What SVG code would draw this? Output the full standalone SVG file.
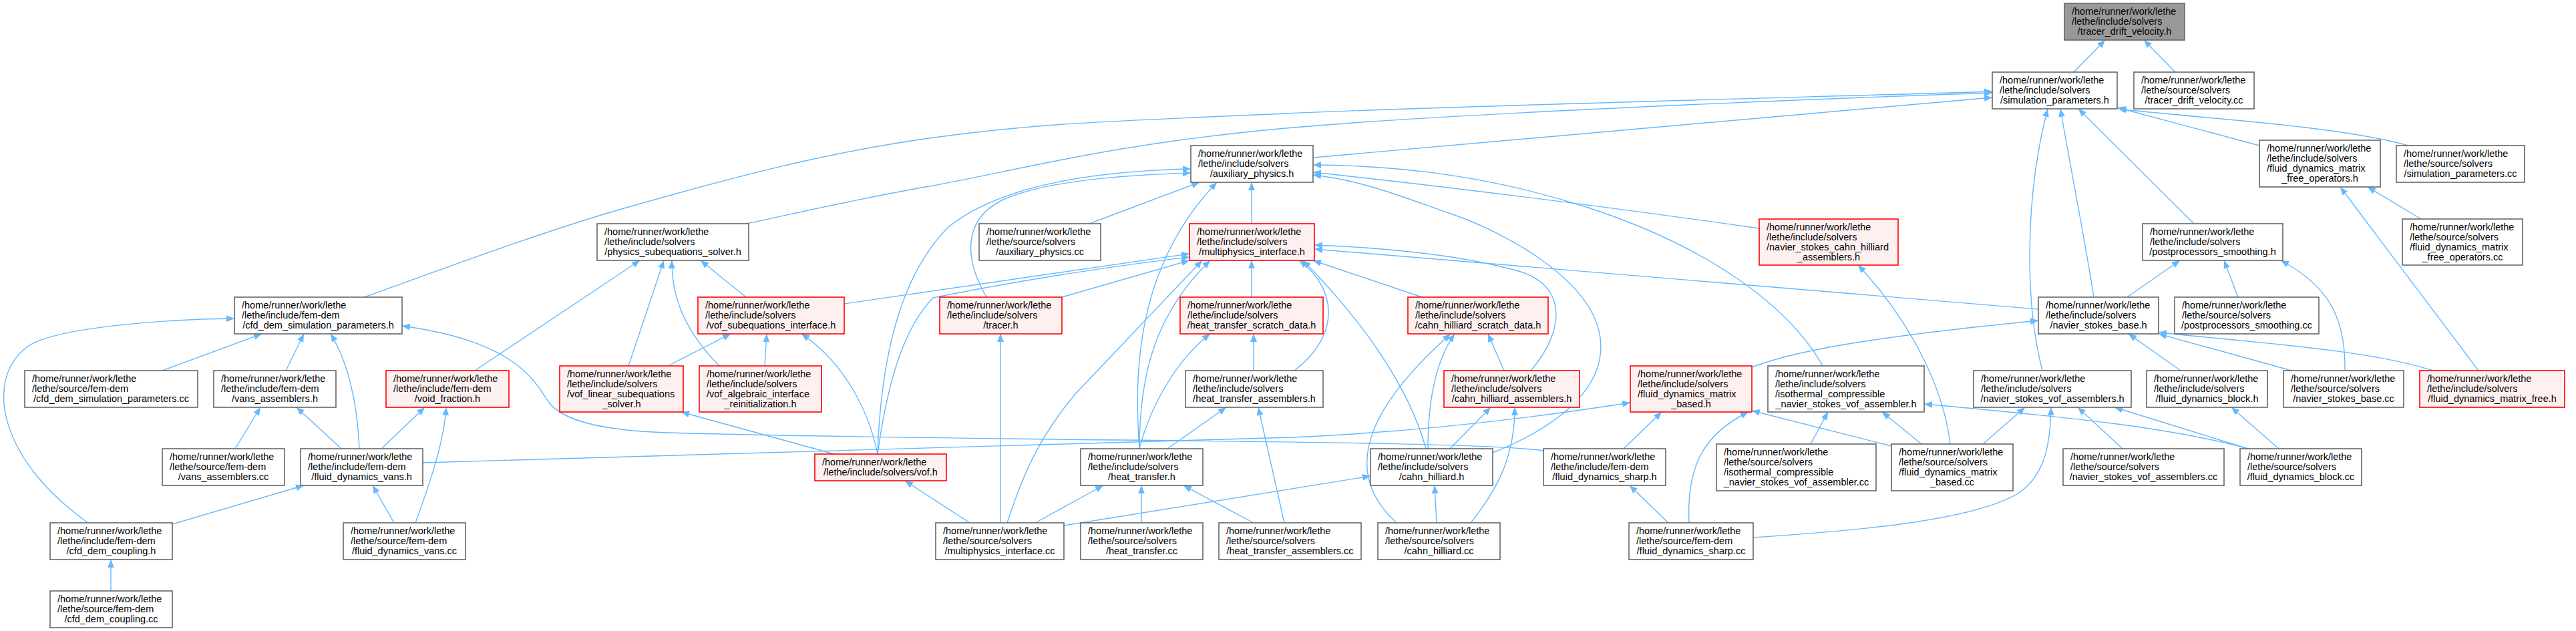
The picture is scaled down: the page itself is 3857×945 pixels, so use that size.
<svg xmlns="http://www.w3.org/2000/svg" width="3857" height="945" viewBox="0 0 3857 945">
<defs>
<marker id="ah" viewBox="0 0 12 10" refX="12" refY="5" markerWidth="12" markerHeight="10" orient="auto" markerUnits="userSpaceOnUse"><path d="M0,0L12,5L0,10z" fill="#63b8ff"/></marker>
<style>
.node rect{fill:#ffffff;stroke:#666666;stroke-width:1.6}
.trunc rect{fill:#fff0f0;stroke:#ff0000}
.root rect{fill:#999999;stroke:#666666}
text{font-family:"Liberation Sans",Arial,sans-serif;font-size:14.5px;fill:#000000}
.c{text-anchor:middle}
#edges path{fill:none;stroke:#63b8ff;stroke-width:1.4;marker-end:url(#ah)}
</style>
</defs>
<rect width="3857" height="945" fill="#ffffff"/>
<g id="edges">
<path d="M3105,108 L3152,60"/>
<path d="M3257,108 L3210,60"/>
<path d="M1966,236 L2983,146"/>
<path d="M545,445 C611,422 800,350 941,310 C1082,270 1227,230 1391,207 C1555,184 1660,182 1925,170 C2190,158 2807,143 2983,137"/>
<path d="M1117,335 C1163,326 1256,303 1391,279 C1526,255 1660,216 1925,192 C2190,168 2807,145 2983,139"/>
<path d="M3383,218 L3170,161"/>
<path d="M3606,218 C3500,188 3300,178 3172,163"/>
<path d="M3058,555 C3033,460 3030,300 3066,163"/>
<path d="M3135,445 C3120,350 3100,250 3085,163"/>
<path d="M3285,335 L3112,163"/>
<path d="M1874,335 L1874,273"/>
<path d="M1631,335 L1796,273"/>
<path d="M1706,672 C1698,560 1700,400 1822,273"/>
<path d="M1477,445 C1445,390 1440,330 1500,300 C1560,272 1680,262 1783,259"/>
<path d="M1314,680 C1318,560 1340,420 1420,340 C1500,275 1650,256 1783,253"/>
<path d="M2729,548 C2680,460 2560,370 2375,310 C2250,270 2120,248 1966,247"/>
<path d="M2634,342 C2450,316 2200,283 1966,258"/>
<path d="M2235,678 C2330,640 2410,580 2395,500 C2380,420 2260,350 2172,320 C2100,295 2040,270 1966,262"/>
<path d="M132,783 C0,690 -25,570 40,520 C79,490 250,478 351,477"/>
<path d="M243,555 L392,500"/>
<path d="M428,555 L455,500"/>
<path d="M538,672 C535,600 520,540 495,500"/>
<path d="M2311,675 C2200,658 1500,662 1000,648 C900,645 840,630 820,600 C795,560 760,510 602,488"/>
<path d="M711,555 L958,390"/>
<path d="M941,548 L994,390"/>
<path d="M1077,548 C1030,500 1005,450 1006,390"/>
<path d="M1117,445 L1049,390"/>
<path d="M1000,548 L1094,500"/>
<path d="M1145,548 L1148,500"/>
<path d="M1314,680 C1300,610 1260,540 1200,500"/>
<path d="M1249,680 L1020,617"/>
<path d="M1264,455 L1781,380"/>
<path d="M1314,680 C1325,600 1345,500 1397,446 C1500,425 1650,400 1781,385"/>
<path d="M1590,445 L1781,390"/>
<path d="M1508,783 C1535,700 1560,650 1610,590 L1800,390"/>
<path d="M1706,672 C1706,560 1730,470 1812,390"/>
<path d="M1706,672 C1722,610 1760,540 1812,500"/>
<path d="M1874,445 L1874,390"/>
<path d="M1877,555 L1877,500"/>
<path d="M1938,555 C2010,500 2000,430 1945,390"/>
<path d="M1923,783 L1884,610"/>
<path d="M1748,672 L1836,610"/>
<path d="M1452,783 L1355,720"/>
<path d="M1498,783 L1498,500"/>
<path d="M1550,783 L1652,727"/>
<path d="M1593,787 L2052,713"/>
<path d="M1709,783 L1709,727"/>
<path d="M1877,783 L1772,727"/>
<path d="M2129,445 L1966,390"/>
<path d="M2135,672 C2110,580 2040,480 1951,390"/>
<path d="M2091,783 C2000,700 2060,600 2172,500"/>
<path d="M2138,672 C2138,600 2150,540 2178,500"/>
<path d="M2252,555 L2228,500"/>
<path d="M2292,555 C2340,500 2350,430 2277,407 C2200,385 2100,372 1968,367"/>
<path d="M2171,672 L2232,610"/>
<path d="M2202,783 C2245,730 2268,680 2268,610"/>
<path d="M2151,783 L2148,727"/>
<path d="M3052,463 L1968,373"/>
<path d="M2623,550 C2700,520 2850,500 3052,480"/>
<path d="M3265,555 L3187,500"/>
<path d="M3431,555 L3232,500"/>
<path d="M3643,555 C3550,525 3400,515 3232,498"/>
<path d="M3185,445 L3264,390"/>
<path d="M3351,445 L3330,390"/>
<path d="M3511,555 C3512,480 3490,430 3415,390"/>
<path d="M3711,555 L3504,280"/>
<path d="M3625,328 L3545,280"/>
<path d="M3178,672 L3111,610"/>
<path d="M3366,672 L3166,610"/>
<path d="M3366,672 C3250,640 3100,625 2881,605"/>
<path d="M3412,672 L3341,610"/>
<path d="M2969,665 L3032,610"/>
<path d="M2920,665 C2910,580 2860,480 2782,397"/>
<path d="M2877,665 L2818,617"/>
<path d="M2832,668 L2623,615"/>
<path d="M2529,783 C2525,700 2550,650 2618,617"/>
<path d="M2498,783 L2440,727"/>
<path d="M2625,805 C2780,795 2950,780 3020,740 C3060,715 3070,670 3071,610"/>
<path d="M2431,672 L2488,617"/>
<path d="M633,693 L1900,656 C2100,650 2300,625 2441,603"/>
<path d="M571,672 L636,610"/>
<path d="M622,783 C645,720 665,660 668,610"/>
<path d="M590,783 L558,727"/>
<path d="M258,785 L455,727"/>
<path d="M166,885 L166,838"/>
<path d="M352,672 L390,610"/>
<path d="M511,672 L444,610"/>
<path d="M2711,665 L2737,617"/>
</g>
<g id="n1" class="node root"><rect x="3091" y="5" width="180" height="55"/><text><tspan x="3102" y="22">/home/runner/work/lethe</tspan><tspan x="3102" y="37">/lethe/include/solvers</tspan><tspan class="c" x="3181" y="52">/tracer_drift_velocity.h</tspan></text></g>
<g id="n2" class="node"><rect x="2983" y="108" width="187" height="55"/><text><tspan x="2994" y="125">/home/runner/work/lethe</tspan><tspan x="2994" y="140">/lethe/include/solvers</tspan><tspan class="c" x="3076.5" y="155">/simulation_parameters.h</tspan></text></g>
<g id="n3" class="node"><rect x="3195" y="108" width="180" height="55"/><text><tspan x="3206" y="125">/home/runner/work/lethe</tspan><tspan x="3206" y="140">/lethe/source/solvers</tspan><tspan class="c" x="3285" y="155">/tracer_drift_velocity.cc</tspan></text></g>
<g id="n4" class="node"><rect x="1783" y="218" width="183" height="55"/><text><tspan x="1794" y="235">/home/runner/work/lethe</tspan><tspan x="1794" y="250">/lethe/include/solvers</tspan><tspan class="c" x="1874.5" y="265">/auxiliary_physics.h</tspan></text></g>
<g id="n5" class="node"><rect x="3383" y="210" width="181" height="70"/><text><tspan x="3394" y="227">/home/runner/work/lethe</tspan><tspan x="3394" y="242">/lethe/include/solvers</tspan><tspan x="3394" y="257">/fluid_dynamics_matrix</tspan><tspan class="c" x="3473.5" y="272">_free_operators.h</tspan></text></g>
<g id="n6" class="node"><rect x="3588" y="218" width="192" height="55"/><text><tspan x="3599" y="235">/home/runner/work/lethe</tspan><tspan x="3599" y="250">/lethe/source/solvers</tspan><tspan class="c" x="3684" y="265">/simulation_parameters.cc</tspan></text></g>
<g id="n7" class="node"><rect x="894" y="335" width="227" height="55"/><text><tspan x="905" y="352">/home/runner/work/lethe</tspan><tspan x="905" y="367">/lethe/include/solvers</tspan><tspan class="c" x="1007.5" y="382">/physics_subequations_solver.h</tspan></text></g>
<g id="n8" class="node"><rect x="1466" y="335" width="182" height="55"/><text><tspan x="1477" y="352">/home/runner/work/lethe</tspan><tspan x="1477" y="367">/lethe/source/solvers</tspan><tspan class="c" x="1557" y="382">/auxiliary_physics.cc</tspan></text></g>
<g id="n9" class="node trunc"><rect x="1781" y="335" width="187" height="55"/><text><tspan x="1792" y="352">/home/runner/work/lethe</tspan><tspan x="1792" y="367">/lethe/include/solvers</tspan><tspan class="c" x="1874.5" y="382">/multiphysics_interface.h</tspan></text></g>
<g id="n10" class="node trunc"><rect x="2634" y="328" width="208" height="69"/><text><tspan x="2645" y="345">/home/runner/work/lethe</tspan><tspan x="2645" y="360">/lethe/include/solvers</tspan><tspan x="2645" y="375">/navier_stokes_cahn_hilliard</tspan><tspan class="c" x="2738" y="390">_assemblers.h</tspan></text></g>
<g id="n11" class="node"><rect x="3208" y="335" width="210" height="55"/><text><tspan x="3219" y="352">/home/runner/work/lethe</tspan><tspan x="3219" y="367">/lethe/include/solvers</tspan><tspan class="c" x="3313" y="382">/postprocessors_smoothing.h</tspan></text></g>
<g id="n12" class="node"><rect x="3597" y="328" width="180" height="69"/><text><tspan x="3608" y="345">/home/runner/work/lethe</tspan><tspan x="3608" y="360">/lethe/source/solvers</tspan><tspan x="3608" y="375">/fluid_dynamics_matrix</tspan><tspan class="c" x="3687" y="390">_free_operators.cc</tspan></text></g>
<g id="n13" class="node"><rect x="351" y="445" width="251" height="55"/><text><tspan x="362" y="462">/home/runner/work/lethe</tspan><tspan x="362" y="477">/lethe/include/fem-dem</tspan><tspan class="c" x="476.5" y="492">/cfd_dem_simulation_parameters.h</tspan></text></g>
<g id="n14" class="node trunc"><rect x="1045" y="445" width="219" height="55"/><text><tspan x="1056" y="462">/home/runner/work/lethe</tspan><tspan x="1056" y="477">/lethe/include/solvers</tspan><tspan class="c" x="1154.5" y="492">/vof_subequations_interface.h</tspan></text></g>
<g id="n15" class="node trunc"><rect x="1407" y="445" width="183" height="55"/><text><tspan x="1418" y="462">/home/runner/work/lethe</tspan><tspan x="1418" y="477">/lethe/include/solvers</tspan><tspan class="c" x="1498.5" y="492">/tracer.h</tspan></text></g>
<g id="n16" class="node trunc"><rect x="1767" y="445" width="214" height="55"/><text><tspan x="1778" y="462">/home/runner/work/lethe</tspan><tspan x="1778" y="477">/lethe/include/solvers</tspan><tspan class="c" x="1874" y="492">/heat_transfer_scratch_data.h</tspan></text></g>
<g id="n17" class="node trunc"><rect x="2108" y="445" width="210" height="55"/><text><tspan x="2119" y="462">/home/runner/work/lethe</tspan><tspan x="2119" y="477">/lethe/include/solvers</tspan><tspan class="c" x="2213" y="492">/cahn_hilliard_scratch_data.h</tspan></text></g>
<g id="n18" class="node"><rect x="3052" y="445" width="180" height="55"/><text><tspan x="3063" y="462">/home/runner/work/lethe</tspan><tspan x="3063" y="477">/lethe/include/solvers</tspan><tspan class="c" x="3142" y="492">/navier_stokes_base.h</tspan></text></g>
<g id="n19" class="node"><rect x="3256" y="445" width="216" height="55"/><text><tspan x="3267" y="462">/home/runner/work/lethe</tspan><tspan x="3267" y="477">/lethe/source/solvers</tspan><tspan class="c" x="3364" y="492">/postprocessors_smoothing.cc</tspan></text></g>
<g id="n20" class="node"><rect x="37" y="555" width="259" height="55"/><text><tspan x="48" y="572">/home/runner/work/lethe</tspan><tspan x="48" y="587">/lethe/source/fem-dem</tspan><tspan class="c" x="166.5" y="602">/cfd_dem_simulation_parameters.cc</tspan></text></g>
<g id="n21" class="node"><rect x="320" y="555" width="183" height="55"/><text><tspan x="331" y="572">/home/runner/work/lethe</tspan><tspan x="331" y="587">/lethe/include/fem-dem</tspan><tspan class="c" x="411.5" y="602">/vans_assemblers.h</tspan></text></g>
<g id="n22" class="node trunc"><rect x="578" y="555" width="184" height="55"/><text><tspan x="589" y="572">/home/runner/work/lethe</tspan><tspan x="589" y="587">/lethe/include/fem-dem</tspan><tspan class="c" x="670" y="602">/void_fraction.h</tspan></text></g>
<g id="n23" class="node trunc"><rect x="838" y="548" width="185" height="69"/><text><tspan x="849" y="565">/home/runner/work/lethe</tspan><tspan x="849" y="580">/lethe/include/solvers</tspan><tspan x="849" y="595">/vof_linear_subequations</tspan><tspan class="c" x="930.5" y="610">_solver.h</tspan></text></g>
<g id="n24" class="node trunc"><rect x="1047" y="548" width="183" height="69"/><text><tspan x="1058" y="565">/home/runner/work/lethe</tspan><tspan x="1058" y="580">/lethe/include/solvers</tspan><tspan x="1058" y="595">/vof_algebraic_interface</tspan><tspan class="c" x="1138.5" y="610">_reinitialization.h</tspan></text></g>
<g id="n25" class="node"><rect x="1775" y="555" width="206" height="55"/><text><tspan x="1786" y="572">/home/runner/work/lethe</tspan><tspan x="1786" y="587">/lethe/include/solvers</tspan><tspan class="c" x="1878" y="602">/heat_transfer_assemblers.h</tspan></text></g>
<g id="n26" class="node trunc"><rect x="2162" y="555" width="203" height="55"/><text><tspan x="2173" y="572">/home/runner/work/lethe</tspan><tspan x="2173" y="587">/lethe/include/solvers</tspan><tspan class="c" x="2263.5" y="602">/cahn_hilliard_assemblers.h</tspan></text></g>
<g id="n27" class="node trunc"><rect x="2441" y="548" width="182" height="69"/><text><tspan x="2452" y="565">/home/runner/work/lethe</tspan><tspan x="2452" y="580">/lethe/include/solvers</tspan><tspan x="2452" y="595">/fluid_dynamics_matrix</tspan><tspan class="c" x="2532" y="610">_based.h</tspan></text></g>
<g id="n28" class="node"><rect x="2647" y="548" width="234" height="69"/><text><tspan x="2658" y="565">/home/runner/work/lethe</tspan><tspan x="2658" y="580">/lethe/include/solvers</tspan><tspan x="2658" y="595">/isothermal_compressible</tspan><tspan class="c" x="2764" y="610">_navier_stokes_vof_assembler.h</tspan></text></g>
<g id="n29" class="node"><rect x="2955" y="555" width="236" height="55"/><text><tspan x="2966" y="572">/home/runner/work/lethe</tspan><tspan x="2966" y="587">/lethe/include/solvers</tspan><tspan class="c" x="3073" y="602">/navier_stokes_vof_assemblers.h</tspan></text></g>
<g id="n30" class="node"><rect x="3214" y="555" width="181" height="55"/><text><tspan x="3225" y="572">/home/runner/work/lethe</tspan><tspan x="3225" y="587">/lethe/include/solvers</tspan><tspan class="c" x="3304.5" y="602">/fluid_dynamics_block.h</tspan></text></g>
<g id="n31" class="node"><rect x="3419" y="555" width="180" height="55"/><text><tspan x="3430" y="572">/home/runner/work/lethe</tspan><tspan x="3430" y="587">/lethe/source/solvers</tspan><tspan class="c" x="3509" y="602">/navier_stokes_base.cc</tspan></text></g>
<g id="n32" class="node trunc"><rect x="3623" y="555" width="217" height="55"/><text><tspan x="3634" y="572">/home/runner/work/lethe</tspan><tspan x="3634" y="587">/lethe/include/solvers</tspan><tspan class="c" x="3731.5" y="602">/fluid_dynamics_matrix_free.h</tspan></text></g>
<g id="n33" class="node"><rect x="243" y="672" width="183" height="55"/><text><tspan x="254" y="689">/home/runner/work/lethe</tspan><tspan x="254" y="704">/lethe/source/fem-dem</tspan><tspan class="c" x="334.5" y="719">/vans_assemblers.cc</tspan></text></g>
<g id="n34" class="node"><rect x="450" y="672" width="183" height="55"/><text><tspan x="461" y="689">/home/runner/work/lethe</tspan><tspan x="461" y="704">/lethe/include/fem-dem</tspan><tspan class="c" x="541.5" y="719">/fluid_dynamics_vans.h</tspan></text></g>
<g id="n35" class="node trunc"><rect x="1220" y="680" width="197" height="40"/><text><tspan x="1231" y="697">/home/runner/work/lethe</tspan><tspan class="c" x="1318.5" y="712">/lethe/include/solvers/vof.h</tspan></text></g>
<g id="n36" class="node"><rect x="1618" y="672" width="183" height="55"/><text><tspan x="1629" y="689">/home/runner/work/lethe</tspan><tspan x="1629" y="704">/lethe/include/solvers</tspan><tspan class="c" x="1709.5" y="719">/heat_transfer.h</tspan></text></g>
<g id="n37" class="node"><rect x="2052" y="672" width="183" height="55"/><text><tspan x="2063" y="689">/home/runner/work/lethe</tspan><tspan x="2063" y="704">/lethe/include/solvers</tspan><tspan class="c" x="2143.5" y="719">/cahn_hilliard.h</tspan></text></g>
<g id="n38" class="node"><rect x="2311" y="672" width="183" height="55"/><text><tspan x="2322" y="689">/home/runner/work/lethe</tspan><tspan x="2322" y="704">/lethe/include/fem-dem</tspan><tspan class="c" x="2402.5" y="719">/fluid_dynamics_sharp.h</tspan></text></g>
<g id="n39" class="node"><rect x="2570" y="665" width="239" height="70"/><text><tspan x="2581" y="682">/home/runner/work/lethe</tspan><tspan x="2581" y="697">/lethe/source/solvers</tspan><tspan x="2581" y="712">/isothermal_compressible</tspan><tspan class="c" x="2689.5" y="727">_navier_stokes_vof_assembler.cc</tspan></text></g>
<g id="n40" class="node"><rect x="2832" y="665" width="182" height="70"/><text><tspan x="2843" y="682">/home/runner/work/lethe</tspan><tspan x="2843" y="697">/lethe/source/solvers</tspan><tspan x="2843" y="712">/fluid_dynamics_matrix</tspan><tspan class="c" x="2923" y="727">_based.cc</tspan></text></g>
<g id="n41" class="node"><rect x="3089" y="672" width="241" height="55"/><text><tspan x="3100" y="689">/home/runner/work/lethe</tspan><tspan x="3100" y="704">/lethe/source/solvers</tspan><tspan class="c" x="3209.5" y="719">/navier_stokes_vof_assemblers.cc</tspan></text></g>
<g id="n42" class="node"><rect x="3354" y="672" width="182" height="55"/><text><tspan x="3365" y="689">/home/runner/work/lethe</tspan><tspan x="3365" y="704">/lethe/source/solvers</tspan><tspan class="c" x="3445" y="719">/fluid_dynamics_block.cc</tspan></text></g>
<g id="n43" class="node"><rect x="75" y="783" width="183" height="55"/><text><tspan x="86" y="800">/home/runner/work/lethe</tspan><tspan x="86" y="815">/lethe/include/fem-dem</tspan><tspan class="c" x="166.5" y="830">/cfd_dem_coupling.h</tspan></text></g>
<g id="n44" class="node"><rect x="514" y="783" width="183" height="55"/><text><tspan x="525" y="800">/home/runner/work/lethe</tspan><tspan x="525" y="815">/lethe/source/fem-dem</tspan><tspan class="c" x="605.5" y="830">/fluid_dynamics_vans.cc</tspan></text></g>
<g id="n45" class="node"><rect x="1401" y="783" width="192" height="55"/><text><tspan x="1412" y="800">/home/runner/work/lethe</tspan><tspan x="1412" y="815">/lethe/source/solvers</tspan><tspan class="c" x="1497" y="830">/multiphysics_interface.cc</tspan></text></g>
<g id="n46" class="node"><rect x="1618" y="783" width="183" height="55"/><text><tspan x="1629" y="800">/home/runner/work/lethe</tspan><tspan x="1629" y="815">/lethe/source/solvers</tspan><tspan class="c" x="1709.5" y="830">/heat_transfer.cc</tspan></text></g>
<g id="n47" class="node"><rect x="1825" y="783" width="213" height="55"/><text><tspan x="1836" y="800">/home/runner/work/lethe</tspan><tspan x="1836" y="815">/lethe/source/solvers</tspan><tspan class="c" x="1931.5" y="830">/heat_transfer_assemblers.cc</tspan></text></g>
<g id="n48" class="node"><rect x="2063" y="783" width="183" height="55"/><text><tspan x="2074" y="800">/home/runner/work/lethe</tspan><tspan x="2074" y="815">/lethe/source/solvers</tspan><tspan class="c" x="2154.5" y="830">/cahn_hilliard.cc</tspan></text></g>
<g id="n49" class="node"><rect x="2439" y="783" width="186" height="55"/><text><tspan x="2450" y="800">/home/runner/work/lethe</tspan><tspan x="2450" y="815">/lethe/source/fem-dem</tspan><tspan class="c" x="2532" y="830">/fluid_dynamics_sharp.cc</tspan></text></g>
<g id="n50" class="node"><rect x="75" y="885" width="183" height="55"/><text><tspan x="86" y="902">/home/runner/work/lethe</tspan><tspan x="86" y="917">/lethe/source/fem-dem</tspan><tspan class="c" x="166.5" y="932">/cfd_dem_coupling.cc</tspan></text></g>
</svg>
